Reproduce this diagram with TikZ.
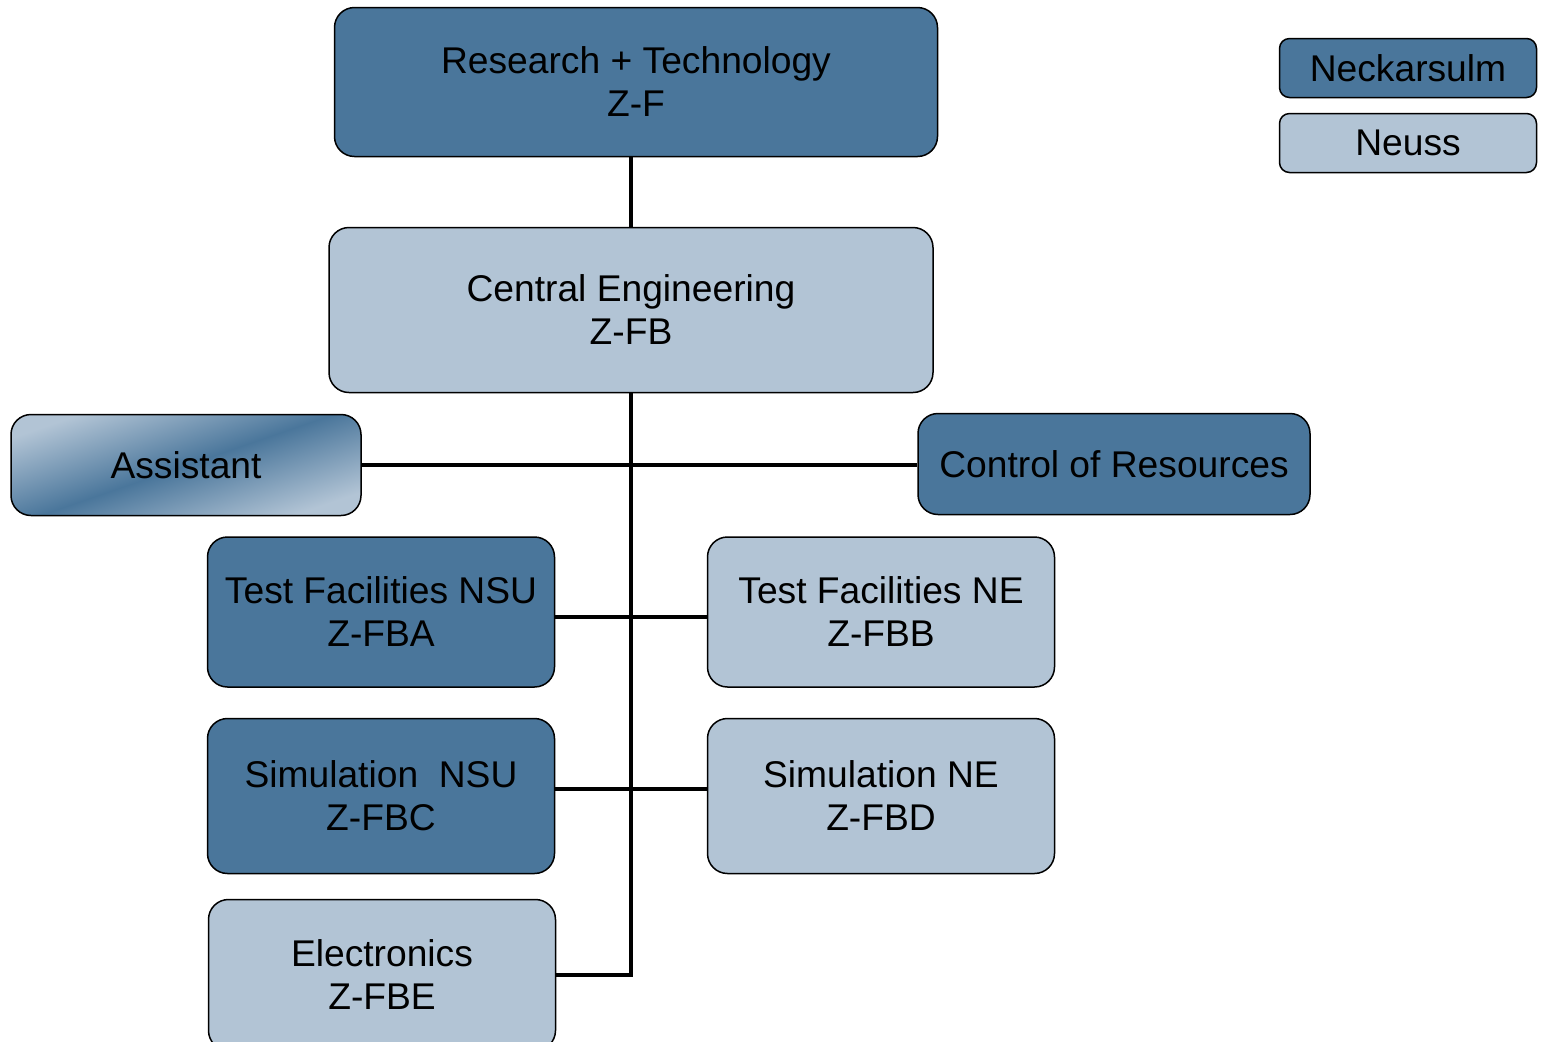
\documentclass[tikz,border=0pt]{standalone}
\usepackage{fontspec}
\setmainfont{Liberation Sans}
\definecolor{darkblue}{RGB}{74,118,155}
\definecolor{lightblue}{RGB}{178,196,213}
\begin{document}
\begin{tikzpicture}[x=0.5pt, y=-0.5pt,
    box/.style={draw, line width=0.75pt, rounded corners=10pt, inner sep=0pt, align=center,
                font=\fontsize{18.6}{21.5}\selectfont},
    neckar/.style={box, fill=darkblue},
    neuss/.style={box, fill=lightblue},
    legend/.style={rounded corners=5pt, minimum width=128.5pt, minimum height=29.5pt},
    link/.style={line width=2pt}]
    \useasboundingbox (0,0) rectangle (1543,1041);

    % Nodes
    \node[neckar, minimum width=301.5pt, minimum height=74.5pt] (zf) at (636,82) {Research + Technology\\Z-F};
    \node[neuss, minimum width=302pt, minimum height=82.5pt] (zfb) at (631,310) {Central Engineering\\Z-FB};
    \node[box, minimum width=175pt, minimum height=50.5pt, left color=lightblue, right color=lightblue,
          middle color=darkblue, shading angle=19] (assistant) at (186,465) {Assistant};
    \node[neckar, minimum width=196pt, minimum height=50.5pt] (control) at (1114,464) {Control of Resources};
    \node[neckar, minimum width=173.5pt, minimum height=75pt] (zfba) at (381,612) {Test Facilities NSU\\Z-FBA};
    \node[neuss, minimum width=173.5pt, minimum height=75pt] (zfbb) at (881,612) {Test Facilities NE\\Z-FBB};
    \node[neckar, minimum width=173.5pt, minimum height=77.5pt] (zfbc) at (381,796) {Simulation\ \ NSU\\Z-FBC};
    \node[neuss, minimum width=173.5pt, minimum height=77.5pt] (zfbd) at (881,796) {Simulation NE\\Z-FBD};
    \node[neuss, minimum width=173.5pt, minimum height=75.5pt] (zfbe) at (382,975) {Electronics\\Z-FBE};

    % Legend
    \node[neckar, legend] (nsu) at (1408,68) {Neckarsulm};
    \node[neuss, legend] (ne) at (1408,143) {Neuss};

    % Edges
    \draw[link] (zfb.north |- zf.south) -- (zfb.north);
    \draw[link] (zfb.south) |- (zfbe.east);
    \draw[link] (assistant.east) -- (assistant.east -| control.west);
    \draw[link] ([yshift=-2.5pt]zfba.east) -- ([yshift=-2.5pt]zfbb.west);
    \draw[link] ([yshift=3.5pt]zfbc.east) -- ([yshift=3.5pt]zfbd.west);
\end{tikzpicture}
\end{document}
